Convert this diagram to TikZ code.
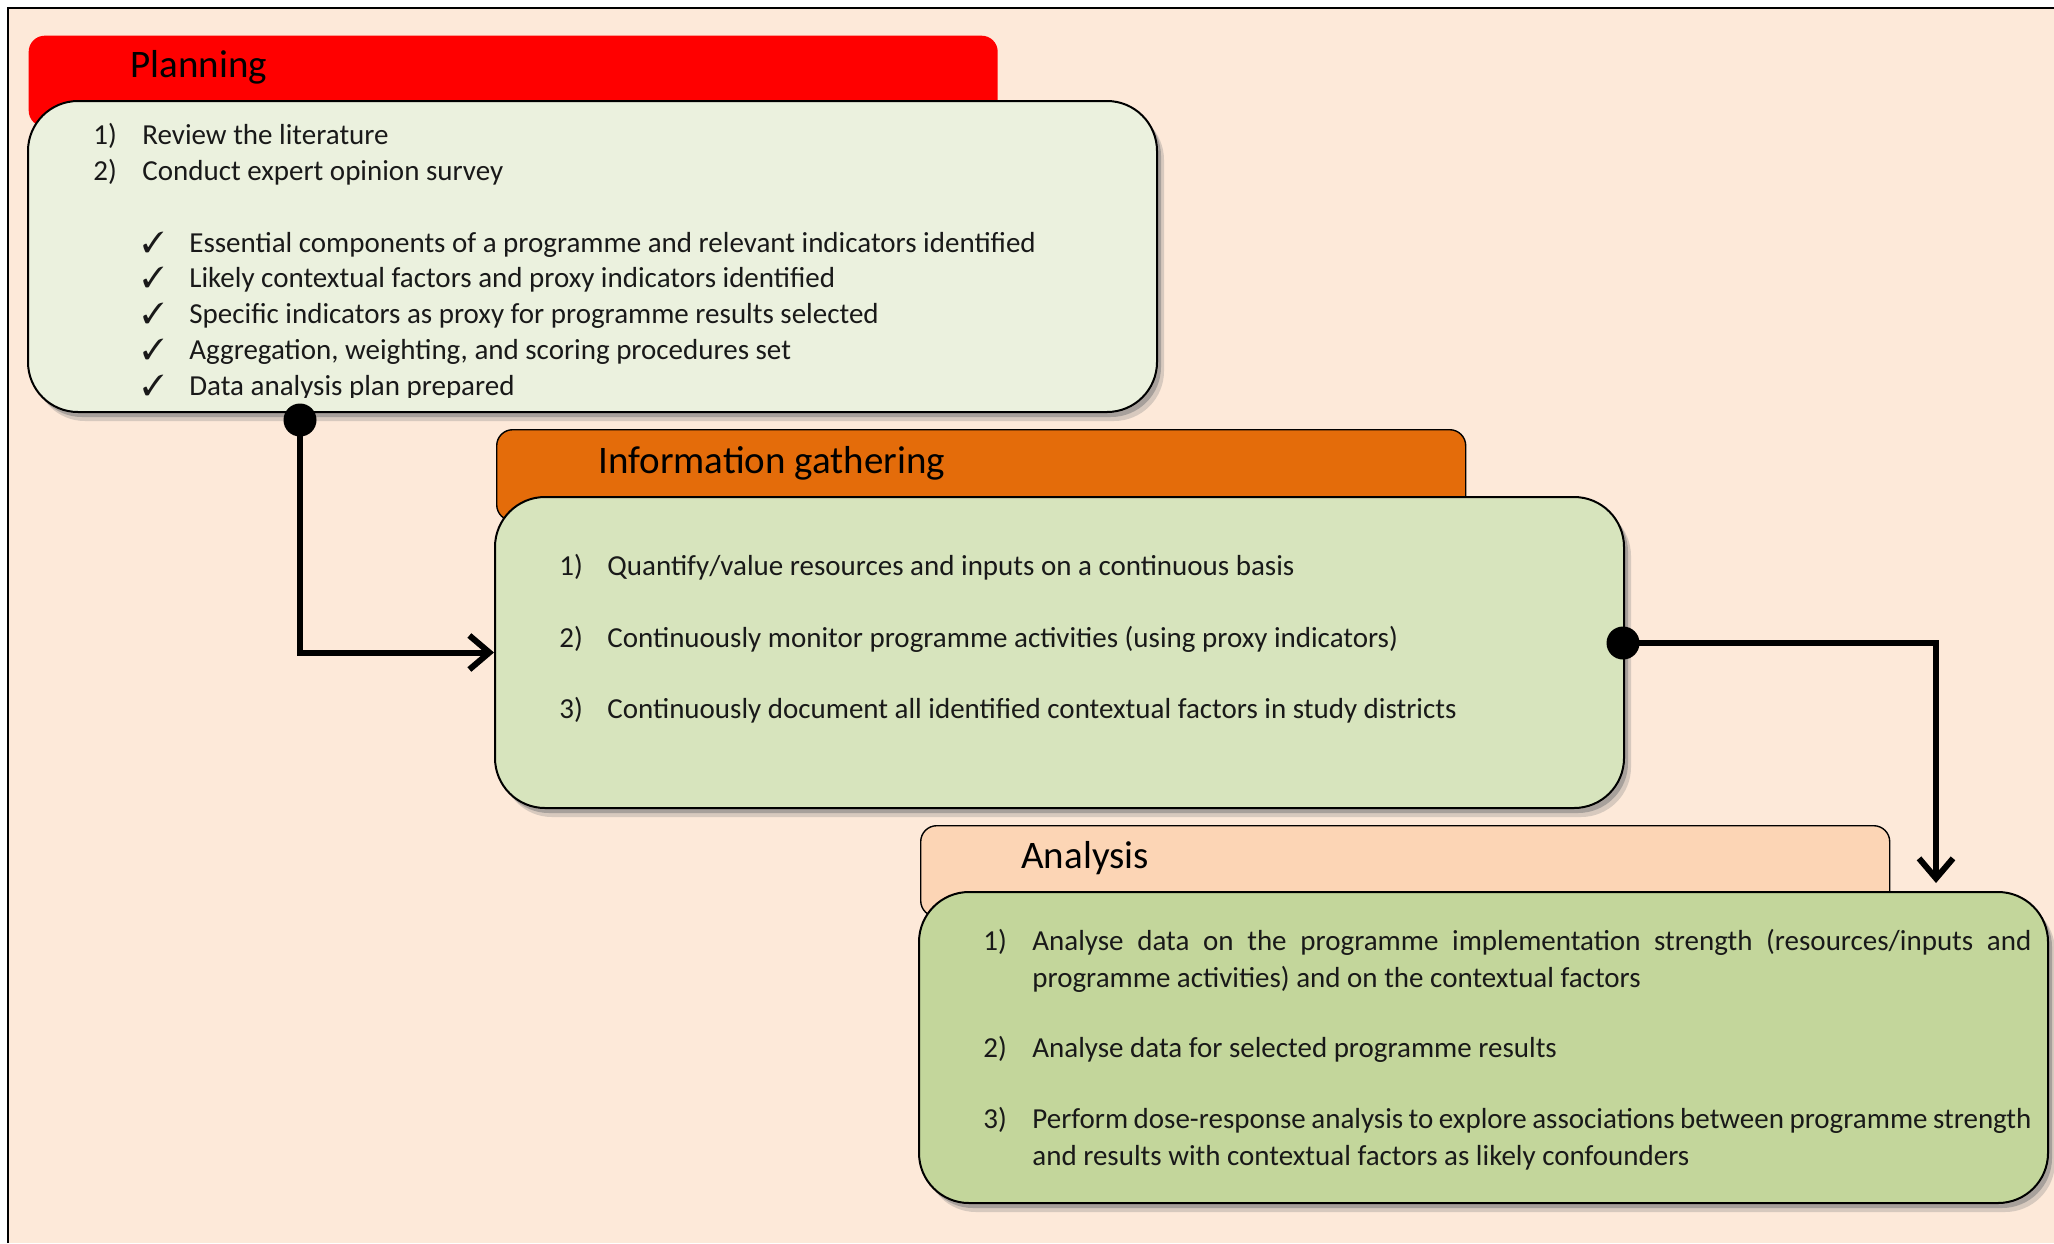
\documentclass[tikz,border=0pt]{standalone}
\usepackage{fontspec}
\setmainfont{Carlito}
\usepackage{pifont}
\usetikzlibrary{arrows.meta,shadows}
\definecolor{pagebg}{RGB}{253,233,217}
\definecolor{planred}{RGB}{255,0,0}
\definecolor{planbody}{RGB}{235,241,222}
\definecolor{infoorange}{RGB}{228,108,10}
\definecolor{infobody}{RGB}{215,228,189}
\definecolor{anapeach}{RGB}{252,213,181}
\definecolor{anabody}{RGB}{195,214,155}
\definecolor{inktext}{RGB}{25,25,25}

\begin{document}
\begin{tikzpicture}[x=0.5pt, y=-0.5pt,
    header/.style={rectangle, rounded corners=8pt, anchor=north west, minimum width=484.5pt, minimum height=45.5pt, draw=black, line width=0.7pt},
    panel/.style={rectangle, rounded corners=25pt, anchor=north west, minimum width=564.5pt, minimum height=155.5pt, draw=black, line width=1pt,
        drop shadow={shadow xshift=3.5pt, shadow yshift=-4.5pt, opacity=0.3},
        drop shadow={shadow xshift=2pt, shadow yshift=-2.5pt, opacity=0.55}},
    title/.style={anchor=base west, inner sep=0pt, font=\fontsize{19.5}{23}\selectfont},
    item/.style={anchor=base west, inner sep=0pt, text=inktext, font=\fontsize{14.5}{18.5}\selectfont},
    para/.style={item, text width=499.5pt, align=justify, execute at begin node={\hyphenpenalty=10000\exhyphenpenalty=10000}},
    dot/.style={circle, fill=black, inner sep=0pt, minimum size=16.5pt},
    link/.style={line width=3pt, -{Straight Barb[length=10pt, width=17pt]}}
]
    \path[use as bounding box] (0,0) rectangle (2054,1243);
    % page background and frame
    \fill[pagebg] (8,8) rectangle (2054,1243);
    \draw[line width=1pt] (8,1243) -- (8,8) -- (2054,8);

    % Planning
    \node[header, fill=planred, draw=none] (plan_head) at (28,35) {};
    \node[title] (plan_title) at (130,77) {Planning};
    \node[panel, fill=planbody] (plan_body) at (27,100) {};
    \node[item] (plan_n1) at (93,144) {1)};
    \node[item] (plan_t1) at (142,144) {Review the literature};
    \node[item] (plan_n2) at (93,180) {2)};
    \node[item] (plan_t2) at (142,180) {Conduct expert opinion survey};
    \node[item] (plan_c1) at (142,252) {\ding{51}};
    \node[item] (plan_r1) at (189,252) {Essential components of a programme and relevant indicators identified};
    \node[item] (plan_c2) at (142,287) {\ding{51}};
    \node[item] (plan_r2) at (189,287) {Likely contextual factors and proxy indicators identified};
    \node[item] (plan_c3) at (142,323) {\ding{51}};
    \node[item] (plan_r3) at (189,323) {Specific indicators as proxy for programme results selected};
    \node[item] (plan_c4) at (142,359) {\ding{51}};
    \node[item] (plan_r4) at (189,359) {Aggregation, weighting, and scoring procedures set};
    \begin{scope}
        \clip (27,100) rectangle (1155,397);
        \node[item] (plan_c5) at (142,395) {\ding{51}};
        \node[item] (plan_r5) at (189,395) {Data analysis plan prepared};
    \end{scope}

    % Information gathering
    \node[header, fill=infoorange] (info_head) at (496,429) {};
    \node[title] (info_title) at (598,473) {Information gathering};
    \node[panel, fill=infobody] (info_body) at (494,496) {};
    \node[item] (info_n1) at (559,575) {1)};
    \node[item] (info_t1) at (607,575) {Quantify/value resources and inputs on a continuous basis};
    \node[item] (info_n2) at (559,647) {2)};
    \node[item] (info_t2) at (607,647) {Continuously monitor programme activities (using proxy indicators)};
    \node[item] (info_n3) at (559,718) {3)};
    \node[item] (info_t3) at (607,718) {Continuously document all identified contextual factors in study districts};

    % Analysis
    \node[header, fill=anapeach] (ana_head) at (920,825) {};
    \node[title] (ana_title) at (1021,868) {Analysis};
    \node[panel, fill=anabody] (ana_body) at (918,891) {};
    \node[item] (ana_n1) at (983,950) {1)};
    \node[para] (ana_t1) at (1032,950) {Analyse data on the programme implementation strength (resources/inputs and programme activities) and on the contextual factors};
    \node[item] (ana_n2) at (983,1057) {2)};
    \node[item] (ana_t2) at (1032,1057) {Analyse data for selected programme results};
    \node[item] (ana_n3) at (983,1128) {3)};
    \node[para] (ana_t3) at (1032,1128) {Perform dose-response analysis to explore associations between programme strength and results with contextual factors as likely confounders};

    % connectors
    \node[dot] (plan_dot) at (300,420) {};
    \draw[link] (plan_dot.center) |- (info_body.west);
    \node[dot] (info_dot) at (1623,643) {};
    \coordinate (ana_in) at (1936,883);
    \draw[link] (info_dot.center) -| (ana_in);
\end{tikzpicture}
\end{document}
